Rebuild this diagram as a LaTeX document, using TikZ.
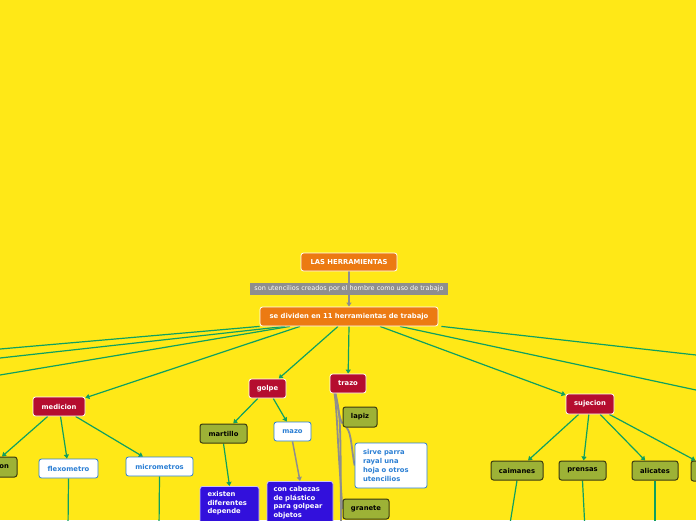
\documentclass[tikz,border=0pt]{standalone}
\usepackage{fontspec}
\setmainfont{DejaVu Sans}
\usetikzlibrary{arrows.meta,calc,backgrounds}
\definecolor{bg}{HTML}{FFE817}
\definecolor{orng}{HTML}{EC7A12}
\definecolor{crim}{HTML}{B50D2F}
\definecolor{oliv}{HTML}{9DB236}
\definecolor{olivd}{HTML}{3A3A10}
\definecolor{grn}{HTML}{0FA060}
\definecolor{gry}{HTML}{8E8E8E}
\definecolor{blu}{HTML}{2B7FD4}
\definecolor{vio}{HTML}{3210DC}
\begin{document}
\begin{tikzpicture}[x=1pt,y=-1pt,
 sz/.style 2 args={minimum width=#1pt, minimum height=#2pt},
 base/.style={rounded corners=2.5pt, inner sep=0pt, font=\fontsize{6.8}{8.7}\selectfont\bfseries, line width=0.8pt},
 orangebox/.style={base, fill=orng, draw=white, text=white},
 crimbox/.style={base, fill=crim, draw=white, text=white},
 olivebox/.style={base, fill=oliv, draw=olivd, text=black, line width=1pt},
 whitebox/.style={base, fill=white, draw=blu, text=blu},
 descbox/.style={base, fill=white, draw=blu, text=blu, align=left},
 violetbox/.style={base, fill=vio, draw=white!75!vio, text=white, align=left, anchor=north, inner ysep=5pt},
 grayl/.style={fill=gry, text=white, inner sep=0pt, font=\fontsize{6.5}{7}\selectfont},
 arr/.style={draw=grn, line width=1.2pt, -{Triangle[length=4pt,width=5pt]}},
 ln/.style={draw=grn, line width=1.2pt},
 garr/.style={draw=gry, line width=1.5pt, -{Triangle[length=4pt,width=5pt]}},
 gln/.style={draw=gry, line width=1.8pt},
]
\useasboundingbox (0,0) rectangle (696,520);
\clip (0,0) rectangle (696,520);

% main nodes
\node[orangebox, sz={96}{18}] (top) at (349,262) {LAS HERRAMIENTAS};
\node[grayl, sz={198}{12}] (lab) at (349,289) {son utencilios creados por el hombre como uso de trabajo};
\node[orangebox, sz={178}{19}] (sd) at (349,316.5) {se dividen en 11 herramientas de trabajo};

\node[crimbox, sz={52}{19}] (med) at (59,406.5) {medicion};
\node[crimbox, sz={37}{19}] (golpe) at (267.5,388.5) {golpe};
\node[crimbox, sz={36}{19}] (trazo) at (348,383.5) {trazo};
\node[crimbox, sz={48}{20}] (suj) at (590,404) {sujecion};

% medicion children
\node[olivebox, sz={54}{20}, text width=38pt, align=right] (onb) at (-10,467) {on};
\node[whitebox, sz={59}{19}] (flex) at (68.5,468.5) {flexometro};
\node[whitebox, sz={67}{19}] (micro) at (159.5,466.5) {micrometros};

% golpe children
\node[olivebox, sz={47}{19}] (mart) at (223.5,433.5) {martillo};
\node[whitebox, sz={37}{19}] (mazo) at (292.5,431.5) {mazo};
\node[violetbox, minimum width=59pt, text width=44pt] (mdesc) at (229.5,486) {existen\\diferentes\\depende\\~\\~};
\node[violetbox, minimum width=66pt, text width=53pt] (zdesc) at (300,481) {con cabezas\\de plástico\\para golpear\\objetos\\~\\~};

% trazo children
\node[olivebox, sz={34}{20}] (lapiz) at (360,417) {lapiz};
\node[descbox, sz={72}{45}, text width=56pt] (sirve) at (391,465.5) {sirve parra\\rayal una\\hoja o otros\\utencilios};
\node[olivebox, sz={46}{20}] (gran) at (366,509) {granete};

% sujecion children
\node[olivebox, sz={52}{19}] (caim) at (517,470.5) {caimanes};
\node[olivebox, sz={47}{19}] (prens) at (582.5,470.5) {prensas};
\node[olivebox, sz={46}{19}] (alic) at (655,470.5) {alicates};
\node[olivebox, sz={48}{20}] (f4) at (715,471) {};

% off-canvas coordinates
\coordinate (L1) at (0,349);
\coordinate (L2) at (0,358);
\coordinate (L3) at (0,375);
\coordinate (R1) at (696,355);
\coordinate (R2) at (696,390);
\coordinate (fd) at (68,530);
\coordinate (md) at (159,530);
\coordinate (cd) at (509,530);
\coordinate (pd) at (585,530);
\coordinate (ad) at (655,530);
\coordinate (tzd) at (341,530);

\begin{scope}[on background layer]
\fill[bg] (0,0) rectangle (696,520);
\draw[garr] (top) -- (sd);
\draw[ln] (sd.south west) -- (L1);
\draw[ln] ($(sd.south)+(-64,0)$) -- (L2);
\draw[ln] ($(sd.south)+(-59,0)$) -- (L3);
\draw[arr] ($(sd.south)+(-49,0)$) -- (med);
\draw[arr] ($(sd.south)+(-11,0)$) -- (golpe);
\draw[arr] (sd.south) -- (trazo);
\draw[arr] ($(sd.south)+(31,0)$) -- (suj);
\draw[ln] ($(sd.south)+(51,0)$) -- (R2);
\draw[ln] ($(sd.south east)+(3,0)$) -- (R1);

\draw[arr] (med) -- (onb);
\draw[arr] (med) -- (flex);
\draw[arr] (med) -- (micro);
\draw[ln] (flex.south) -- (fd);
\draw[ln] (micro.south) -- (md);

\draw[arr] (golpe) -- (mart);
\draw[arr] (golpe) -- (mazo);
\draw[arr] (mart.south) -- (mdesc.north);
\draw[garr] (mazo.south) -- (zdesc.north);

\draw[gln] ($(trazo.south west)+(5,0)$) .. controls +(4,12) and +(-4,-6) .. ($(lapiz.south west)+(0,-4)$);
\draw[gln] ($(lapiz.south west)+(4,0)$) .. controls +(5,5) and +(-3,-15) .. (sirve.west);
\draw[gln] ($(trazo.south west)+(5,0)$) .. controls +(3,25) and +(-6,-80) .. (gran.west);
\draw[gln] ($(trazo.south west)+(6,0)$) .. controls +(5,25) .. (tzd);

\draw[arr] (suj) -- (caim);
\draw[arr] (suj) -- (prens);
\draw[arr] (suj) -- (alic);
\draw[arr] (suj) -- (f4);
\draw[ln] (caim.south) -- (cd);
\draw[ln] (prens.south) -- (pd);
\draw[ln] (alic.south) -- (ad);
\end{scope}
\end{tikzpicture}
\end{document}
